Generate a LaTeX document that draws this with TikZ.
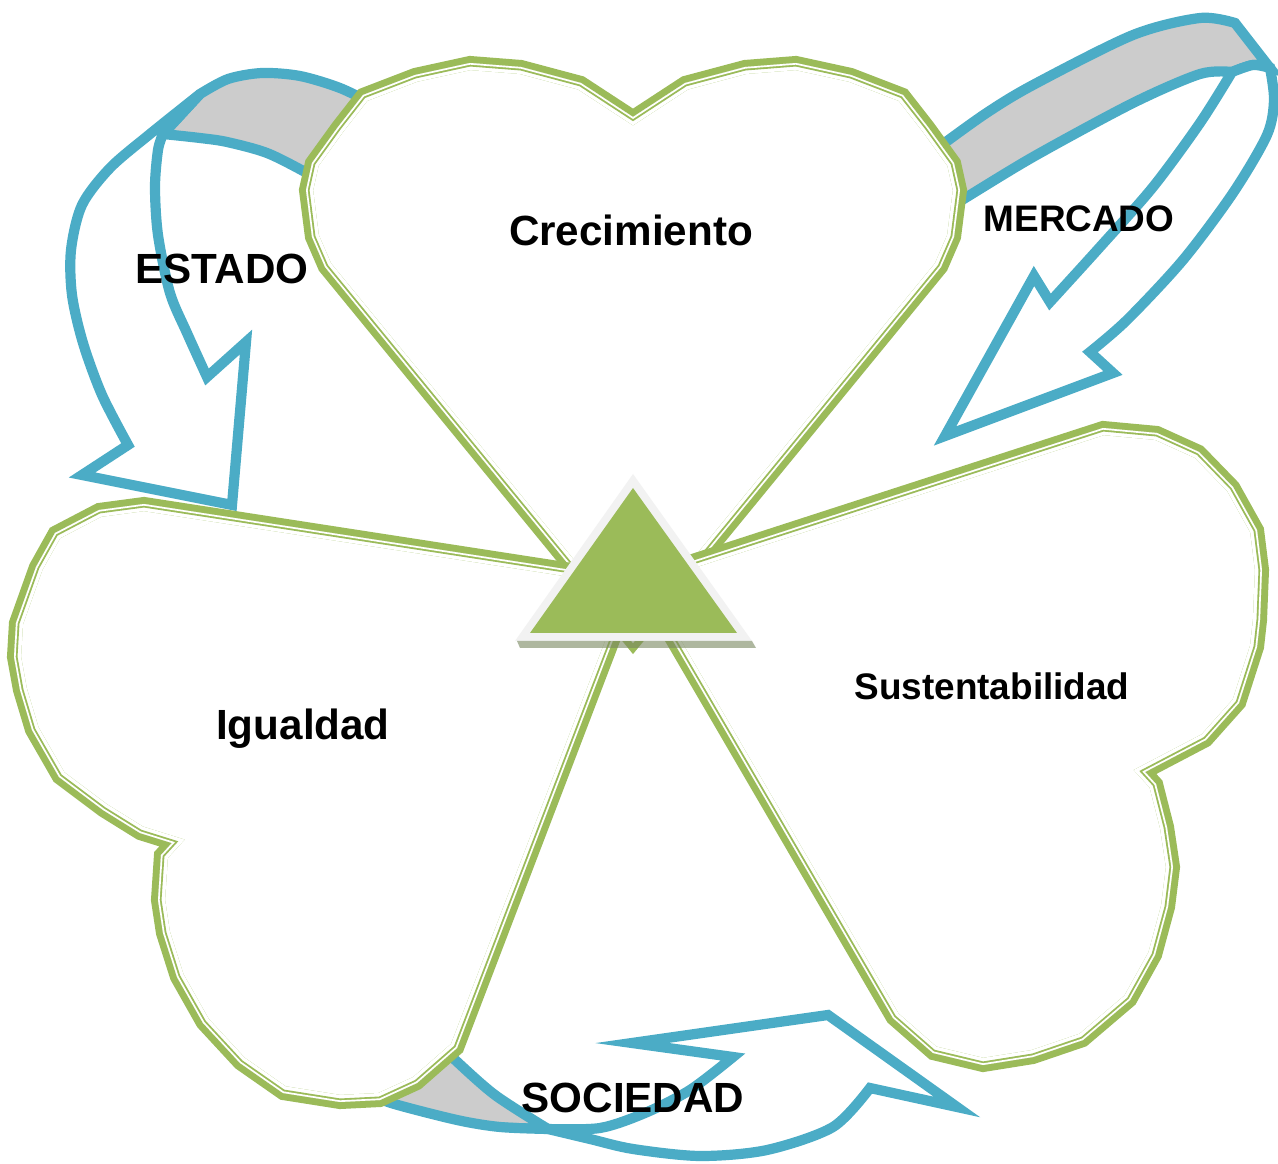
\documentclass[tikz,border=0pt]{standalone}
\usepackage{fontspec}
\setmainfont{Liberation Sans}
\usepackage{tikz}

\definecolor{petalgreen}{RGB}{155,187,89}
\definecolor{bandblue}{RGB}{75,172,198}
\definecolor{bandgrey}{RGB}{204,204,204}
\definecolor{triedge}{RGB}{242,242,242}
\definecolor{trishadow}{RGB}{120,135,95}

% petal outlines
\newcommand{\crecpath}{(633,643) -- (325,267) -- (312,237) -- (306,190) -- (312,163) -- (338,127) -- (363,95) -- (415,75) -- (470,63) -- (521,67) -- (581,83) -- (633,117) -- (685,83) -- (745,67) -- (796,63) -- (851,75) -- (903,95) -- (928,127) -- (954,163) -- (960,190) -- (954,237) -- (941,267) -- cycle}
\newcommand{\igualpath}{(636,580) -- (144,504) -- (99,510) -- (55,533) -- (36,567) -- (16,623) -- (14,657) -- (20,690) -- (32,730) -- (59,777) -- (103,810) -- (140,833) -- (172,843) -- (161,855) -- (158,900) -- (163,933) -- (177,977) -- (203,1023) -- (240,1063) -- (283,1093) -- (340,1102) -- (380,1100) -- (417,1083) -- (457,1048) -- cycle}
\newcommand{\sustpath}{(637,579) -- (1103,428) -- (1157,433) -- (1199,452) -- (1233,487) -- (1257,530) -- (1262,570) -- (1260,620) -- (1257,647) -- (1239,703) -- (1206,740) -- (1145,772) -- (1156,784) -- (1167,827) -- (1173,867) -- (1168,907) -- (1155,955) -- (1130,1000) -- (1083,1040) -- (1033,1057) -- (983,1065) -- (933,1053) -- (893,1018) -- cycle}

% thick-thin green border
\newcommand{\petal}[1]{%
  \fill[white] #1;
  \draw[petalgreen, line width=4pt] #1;
  \begin{scope}
    \clip #1;
    \draw[white, line width=4pt] #1;
    \draw[petalgreen, line width=2pt] #1;
    \draw[white, line width=0.95pt] #1;
  \end{scope}}

\begin{document}
\begin{tikzpicture}[x=0.01cm, y=-0.01cm,
    band/.style={draw=bandblue, line width=2.9pt, line join=miter, fill=white},
    backband/.style={band, fill=bandgrey},
    bigtag/.style={font=\bfseries\fontsize{12}{14}\selectfont, inner sep=0pt, anchor=base},
    smalltag/.style={bigtag, font=\bfseries\fontsize{10.5}{12}\selectfont}]
    \useasboundingbox (0,0) rectangle (1278,1164);

    % ESTADO arrow
    \draw[backband] plot[smooth] coordinates {(375,105) (340,88) (300,76) (262,73) (228,79) (200,94)} -- (163,134)
        -- plot[smooth] coordinates {(163,134) (200,138) (227,142) (267,153) (307,173) (340,192)} -- cycle;
    \draw[band] plot[smooth] coordinates {(200,94) (150,134) (110,168) (82,205) (71,250) (72,295) (83,343) (102,395) (128,445)}
        -- (82,475) -- (232,505) -- (246,342) -- (207,377)
        -- plot[smooth] coordinates {(207,377) (187,333) (170,293) (158,235) (155,187) (158,150) (163,134)} -- cycle;

    % MERCADO arrow
    \draw[backband] plot[smooth] coordinates {(935,150) (985,114) (1033,85) (1133,35) (1200,18) (1235,23)} -- (1270,68)
        -- plot[smooth] coordinates {(1270,68) (1253,65) (1232,72)}
        -- plot[smooth] coordinates {(1232,72) (1200,74) (1133,103) (1033,157) (957,203) (935,215)} -- cycle;
    \draw[band] plot[smooth] coordinates {(1270,68) (1274,100) (1267,135) (1233,193) (1183,260) (1127,320) (1090,352)}
        -- (1113,373) -- (945,436) -- (1034,276) -- (1050,302)
        -- plot[smooth] coordinates {(1050,302) (1100,247) (1153,187) (1200,123) (1232,72)}
        -- plot[smooth] coordinates {(1232,72) (1253,65) (1270,68)} -- cycle;

    % SOCIEDAD arrow
    \draw[backband] plot[smooth] coordinates {(435,1040) (453,1058) (495,1095) (548,1129)}
        -- plot[smooth] coordinates {(548,1129) (500,1127) (457,1120) (391,1103) (370,1093)} -- cycle;
    \draw[band] plot[smooth] coordinates {(548,1129) (600,1128) (645,1113) (690,1090) (733,1057)}
        -- (632,1043) -- (828,1015) -- (957,1107) -- (870,1088)
        -- plot[smooth] coordinates {(870,1088) (833,1127) (767,1150) (700,1156) (633,1149) (590,1139) (548,1129)} -- cycle;

    % petals
    \petal{\crecpath}
    \petal{\igualpath}
    \petal{\sustpath}

    % centre triangle
    \fill[triedge] (633,474) -- (515,641) -- (752,641) -- cycle;
    \fill[petalgreen] (633,488) -- (530,633) -- (737,633) -- cycle;
    \fill[trishadow, opacity=0.6] (517,641) -- (752,641) -- (756,648) -- (520,648) -- cycle;

    % labels
    \node[bigtag] (crec) at (631,246) {Crecimiento};
    \node[bigtag] (estado) at (222,284) {ESTADO};
    \node[smalltag] (mercado) at (1079,232) {MERCADO};
    \node[bigtag] (igual) at (303,740) {Igualdad};
    \node[smalltag] (sust) at (992,700) {Sustentabilidad};
    \node[bigtag] (sociedad) at (633,1112) {SOCIEDAD};
\end{tikzpicture}
\end{document}
